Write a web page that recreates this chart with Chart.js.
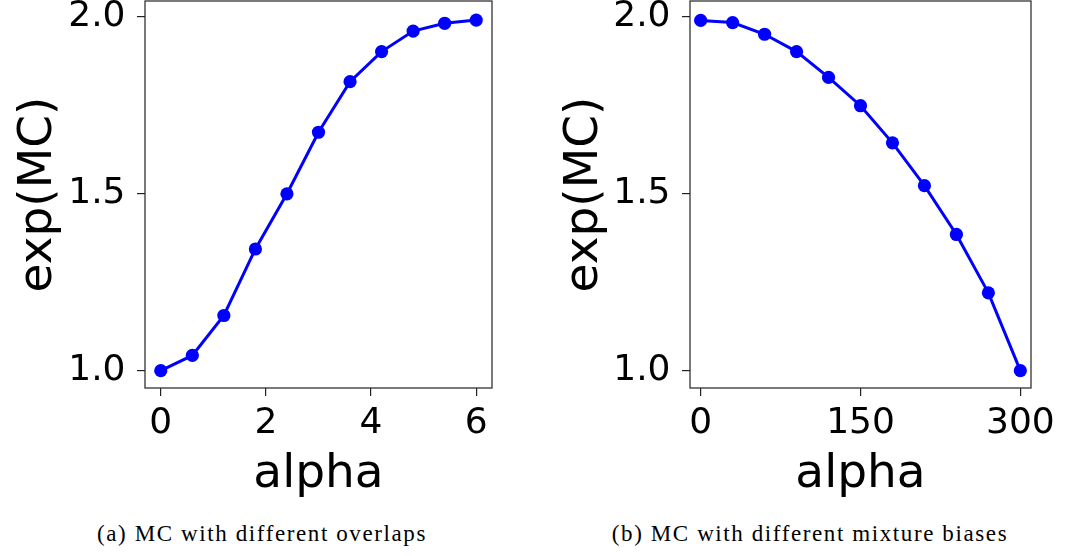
<!DOCTYPE html>
<html>
<head>
<meta charset="utf-8">
<script src="https://cdn.jsdelivr.net/npm/chart.js@4/dist/chart.umd.min.js"></script>
<style>
  body { margin: 0; background: #fff; width: 1072px; height: 556px; position: relative; overflow: hidden; }
  canvas { position: absolute; top: 0; }
  #left-chart { left: 0; }
  #right-chart { left: 540px; }
  .caption {
    position: absolute; top: 522px; transform: translateX(-50%);
    font-family: "Liberation Serif", serif; font-size: 23px; line-height: 23px;
    letter-spacing: 1.6px; white-space: nowrap; color: #000;
  }
</style>
</head>
<body>
<canvas id="left-chart" width="520" height="500"></canvas>
<canvas id="right-chart" width="532" height="500"></canvas>
<div class="caption" style="left: 262px;">(a) MC with different overlaps</div>
<div class="caption" style="left: 810px;">(b) MC with different mixture biases</div>

<script>
// (a) overlaps
const overlapAlpha = [0, 0.6, 1.2, 1.8, 2.4, 3.0, 3.6, 4.2, 4.8, 5.4, 6.0];
const overlapMC = [1.0, 1.043, 1.156, 1.344, 1.5, 1.674, 1.817, 1.902, 1.960, 1.982, 1.991];
const overlapTicks = [0, 2, 4, 6];

// (b) mixture biases
const biasAlpha = [0, 30, 60, 90, 120, 150, 180, 210, 240, 270, 300];
const biasMC = [1.990, 1.984, 1.951, 1.902, 1.829, 1.749, 1.644, 1.523, 1.385, 1.220, 1.0];
const biasTicks = [0, 150, 300];

const mcTicks = [1.0, 1.5, 2.0];

const tickFont = { family: 'DejaVu Sans', size: 36 };
const titleFont = { family: 'DejaVu Sans', size: 47, lineHeight: 1 };
const axisColor = '#222';

// matplotlib style box around the plot area
const frame = {
  id: 'frame',
  afterDraw(chart) {
    const { ctx, chartArea: a } = chart;
    ctx.save();
    ctx.strokeStyle = axisColor;
    ctx.lineWidth = 1.2;
    ctx.strokeRect(a.left, a.top, a.right - a.left, a.bottom - a.top);
    ctx.restore();
  }
};

function makeChart(id, xs, ys, xTicks, xMin, xMax, yAxisWidth, padRight, yTitlePad) {
  const ctx = document.getElementById(id).getContext('2d');
  return new Chart(ctx, {
    type: 'line',
    data: {
      datasets: [{
        data: xs.map((x, i) => ({ x, y: ys[i] })),
        borderColor: '#0000ff',
        backgroundColor: '#0000ff',
        borderWidth: 3,
        pointRadius: 6.6,
        pointBorderWidth: 0,
        pointHoverRadius: 6.6,
        tension: 0,
        clip: false
      }]
    },
    options: {
      responsive: false,
      animation: false,
      devicePixelRatio: 1,
      layout: { autoPadding: false, padding: { top: 1, right: padRight, left: 0, bottom: 0 } },
      plugins: { legend: { display: false }, tooltip: { enabled: false } },
      scales: {
        x: {
          type: 'linear',
          min: xMin,
          max: xMax,
          afterBuildTicks: s => { s.ticks = xTicks.map(v => ({ value: v })); },
          afterFit: s => { s.height = 112; s.paddingLeft = 0; s.paddingRight = 0; },
          ticks: {
            font: tickFont, color: '#000', padding: 6,
            maxRotation: 0, autoSkip: false,
            callback: v => String(v)
          },
          grid: { drawOnChartArea: false, tickLength: 8, color: axisColor, lineWidth: 1.2 },
          border: { display: false },
          title: { display: true, text: 'alpha', font: titleFont, color: '#000', padding: { top: 0, bottom: 1.5 } }
        },
        y: {
          min: 0.951,
          max: 2.045,
          afterBuildTicks: s => { s.ticks = mcTicks.map(v => ({ value: v })); },
          afterFit: s => { s.width = yAxisWidth; s.paddingTop = 0; s.paddingBottom = 0; },
          ticks: {
            font: tickFont, color: '#000', padding: 11.5,
            callback: v => v.toFixed(1)
          },
          grid: { drawOnChartArea: false, tickLength: 8, color: axisColor, lineWidth: 1.2 },
          border: { display: false },
          title: { display: true, text: 'exp(MC)', font: titleFont, color: '#000', padding: { top: yTitlePad, bottom: 0 } }
        }
      }
    },
    plugins: [frame]
  });
}

makeChart('left-chart', overlapAlpha, overlapMC, overlapTicks, -0.3, 6.3, 145, 28, 15);
makeChart('right-chart', biasAlpha, biasMC, biasTicks, -10, 310, 150, 41, 21.5);
</script>
</body>
</html>
